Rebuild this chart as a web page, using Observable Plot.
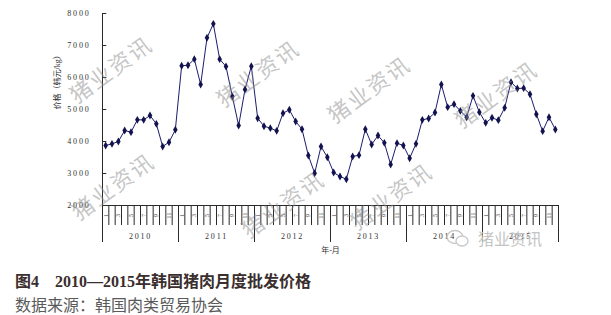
<!DOCTYPE html>
<html><head><meta charset="utf-8">
<script src="https://cdn.jsdelivr.net/npm/d3@7"></script>
<script src="https://cdn.jsdelivr.net/npm/@observablehq/plot@0.6"></script>
<style>
body{margin:0;background:#fff;width:611px;height:315px;overflow:hidden;position:relative;}
#chart{position:absolute;left:0;top:0;}
#chart svg{font-family:"Liberation Serif","Noto Sans CJK SC",serif;}
#chart svg [aria-label="y-axis tick label"] text{letter-spacing:1.8px;}
.yr text{letter-spacing:1.8px;}
.wm{position:absolute;color:rgba(140,140,140,0.5);font-family:"Noto Sans CJK SC",sans-serif;font-size:22px;letter-spacing:2px;white-space:nowrap;transform:translate(-50%,-50%) rotate(-36deg);pointer-events:none;}
#logo{position:absolute;left:446px;top:226px;display:flex;align-items:center;color:#c4c4c4;font-family:"Noto Sans CJK SC",sans-serif;font-size:16px;}
#title{position:absolute;left:15px;top:272px;font-size:16px;line-height:20px;font-weight:bold;color:#3a2e2e;font-family:"Liberation Serif","Noto Sans CJK SC",serif;white-space:nowrap;}
#source{position:absolute;left:15px;top:295px;font-size:16px;line-height:19px;color:#5a5a5a;font-family:"Noto Sans CJK SC",sans-serif;white-space:nowrap;}
</style>
</head><body>
<div id="chart"></div>
<div id="title">图4　2010—2015年韩国猪肉月度批发价格</div>
<div id="source">数据来源：韩国肉类贸易协会</div>
<script>
const years = ["2010","2011","2012","2013","2014","2015"];
const monthLabels = ["1","3","5","7","9","11"];
const yTicks = [2000,3000,4000,5000,6000,7000,8000];
const prices = [
  3875,3927,4000,4344,4292,4677,4677,4812,4552,3844,3979,4365,
  6365,6385,6573,5781,7240,7677,6573,6344,5406,4500,5625,6354,
  4729,4479,4417,4333,4885,4990,4625,4385,3562,3010,3844,3510,
  3031,2906,2822,3531,3573,4385,3906,4187,3958,3281,3948,3875,
  3479,3927,4677,4719,4906,5781,5073,5167,4958,4760,5427,4917,
  4583,4740,4667,5052,5854,5656,5667,5479,4854,4323,4760,4375
];

const data = prices.map((v,i)=>({m:i+0.5, v}));
const nMonths = prices.length;
const monthTicks = [];
years.forEach((y,yi)=>monthLabels.forEach(lab=>monthTicks.push({pos: yi*12 + (+lab) - 0.5, lab})));
const yearMid = years.map((y,i)=>({pos:i*12+6, y}));

const ink = "#2a2a2a";
const chart = Plot.plot({
  width: 611, height: 268,
  marginLeft: 102, marginRight: 53, marginTop: 13, marginBottom: 63,
  x: {domain:[0,nMonths], axis:null},
  y: {domain:[2000,8000], axis:null},
  marks: [
    Plot.ruleX([0], {y1:2000, y2:8000, stroke:ink, strokeWidth:1}),
    Plot.ruleY([2000], {x1:0, x2:nMonths, stroke:ink, strokeWidth:1}),
    Plot.link(yTicks, {x1:0, x2:0.6, y1:d=>d, y2:d=>d, stroke:ink}),
    Plot.axisY({ticks:yTicks, tickSize:0, tickPadding:12, tickFormat:d=>String(d), fontSize:8, fill:"#333", label:null}),
    Plot.axisX({ticks:d3.range(0,nMonths+1), tickSize:20, tickFormat:()=>"", stroke:ink, label:null}),
    Plot.axisX({ticks:d3.range(0,nMonths+1,12), tickSize:37, tickFormat:()=>"", stroke:ink, label:null}),
    Plot.text(monthTicks, {x:"pos", y:()=>2000, text:"lab", dy:10, rotate:-90, fontSize:6, fill:"#333"}),
    Plot.text(yearMid, {x:"pos", y:()=>2000, text:"y", dy:31, fontSize:8, fill:"#333", className:"yr"}),
    Plot.text(["年-月"], {frameAnchor:"bottom", dy:47, fontSize:8, fill:"#333"}),
    Plot.text(["价格（韩元/kg）"], {frameAnchor:"left", dx:-45, rotate:-90, fontSize:8, fill:"#333"}),
    Plot.line(data, {x:"m", y:"v", stroke:"#1c1c6e", strokeWidth:1}),
    Plot.dot(data, {x:"m", y:"v", symbol:"diamond", r:2.4, fill:"#12124f"})
  ]
});
document.getElementById("chart").appendChild(chart);

const marks = [[110,68],[257,72],[368,88],[495,93],[112,185],[282,203],[390,195]];
marks.forEach(([x,y])=>{
  const d=document.createElement("div");
  d.className="wm"; d.textContent="猪业资讯";
  d.style.left=x+"px"; d.style.top=y+"px";
  document.body.appendChild(d);
});
const logo=document.createElement("div");
logo.id="logo";
logo.innerHTML='<svg width="24" height="20" viewBox="0 0 24 20"><ellipse cx="9" cy="9" rx="8" ry="6.5" fill="none" stroke="#c8c8c8" stroke-width="1.3"/><ellipse cx="16" cy="13" rx="6" ry="5" fill="#fff" stroke="#c8c8c8" stroke-width="1.3"/></svg><span style="margin-left:8px">猪业资讯</span>';
document.body.appendChild(logo);
</script>
</body></html>
